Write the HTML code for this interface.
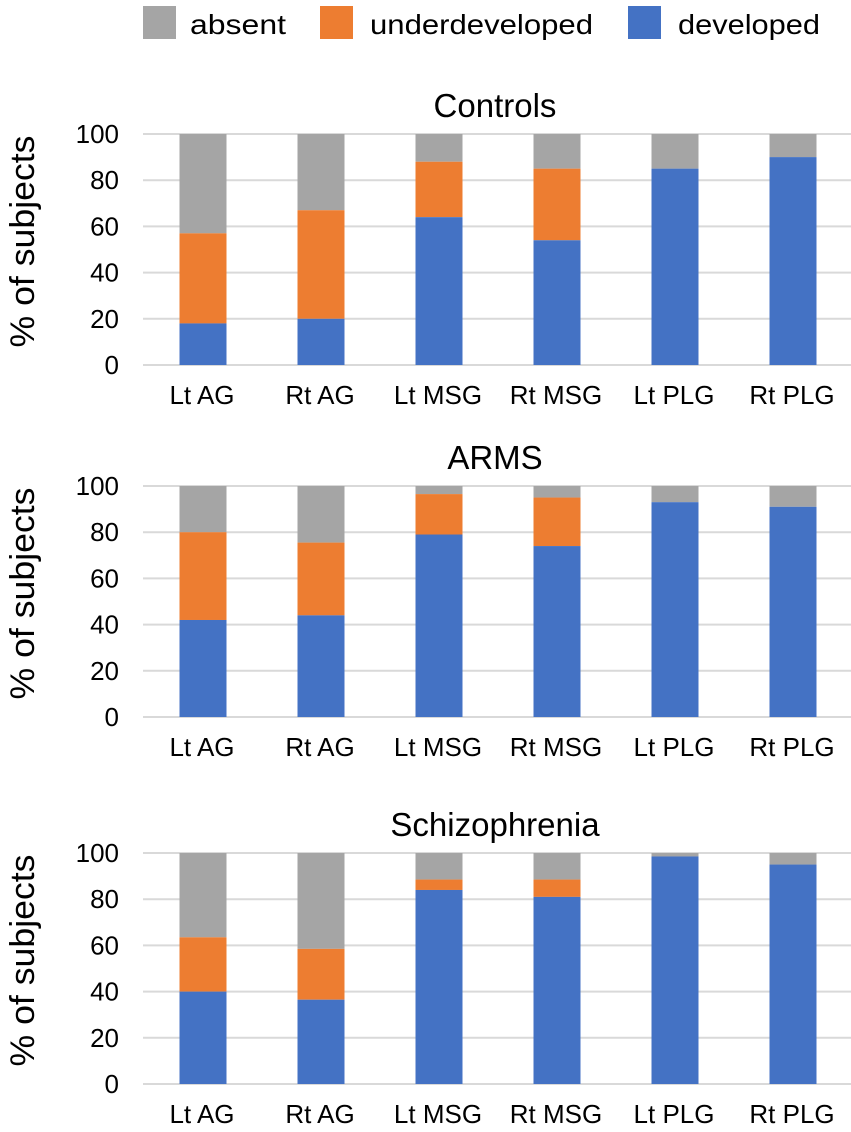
<!DOCTYPE html>
<html><head><meta charset="utf-8"><style>
html,body{margin:0;padding:0;background:#fff;}
svg{display:block;font-family:"Liberation Sans",Arial,sans-serif;}
</style></head><body>
<svg id="chart" width="851" height="1132" viewBox="0 0 851 1132">
  <g>
    <rect x="143" y="6" width="33" height="33" fill="#a5a5a5"/>
    <text x="190" y="34" font-size="28" textLength="96" lengthAdjust="spacingAndGlyphs">absent</text>
    <rect x="320" y="6" width="33" height="33" fill="#ed7d31"/>
    <text x="370" y="34" font-size="28" textLength="223" lengthAdjust="spacingAndGlyphs">underdeveloped</text>
    <rect x="628" y="6" width="33" height="33" fill="#4472c4"/>
    <text x="678" y="34" font-size="28" textLength="142" lengthAdjust="spacingAndGlyphs">developed</text>
  </g>
</svg>
<script>
const categories = ["Lt AG","Rt AG","Lt MSG","Rt MSG","Lt PLG","Rt PLG"];
const panelTitles = ["Controls","ARMS","Schizophrenia"];
const yTicks = [0,20,40,60,80,100];
const controlsDeveloped = [18,20,64,54,85,90];
const controlsUnderdeveloped = [39,47,24,31,0,0];
const armsDeveloped = [42,44,79,74,93,91];
const armsUnderdeveloped = [38,31.5,17.5,21,0,0];
const schizDeveloped = [40,36.5,84,81,98.5,95];
const schizUnderdeveloped = [23.5,22,4.5,7.5,0,0];
const developedSeries = [controlsDeveloped, armsDeveloped, schizDeveloped];
const underSeries = [controlsUnderdeveloped, armsUnderdeveloped, schizUnderdeveloped];

const NS = "http://www.w3.org/2000/svg";
const svg = document.getElementById('chart');
const panelTops = [134, 486, 853];
const plotH = 231, plotX0 = 143, plotX1 = 851;
const catW = (plotX1 - plotX0) / categories.length;
const barW = 47;
const COL = {absent:"#a5a5a5", under:"#ed7d31", dev:"#4472c4"};

function mk(tag, attrs, parent){
  const e = document.createElementNS(NS, tag);
  for (const k in attrs) e.setAttribute(k, attrs[k]);
  parent.appendChild(e);
  return e;
}

panelTitles.forEach((title, p) => {
  const top = panelTops[p];
  const yS = v => top + plotH - v / 100 * plotH;
  const xC = i => plotX0 + catW * (i + 0.5);
  const g = mk('g', {}, svg);
  
  

  const t = mk('text', {x: 495, y: top - 17, 'font-size': 33, 'text-anchor': 'middle'}, g);
  
  
  t.textContent = title;

  const yt = mk('text', {transform: 'translate(34,' + (top + plotH / 2 - 8) + ') rotate(-90)', 'font-size': 34, 'text-anchor': 'middle', textLength: 212, lengthAdjust: 'spacingAndGlyphs'}, g);
  
  
  yt.textContent = '% of subjects';

  yTicks.forEach(v => {
    const l = mk('line', {x1: plotX0, x2: plotX1, y1: yS(v), y2: yS(v), stroke: '#d9d9d9', 'stroke-width': 2}, g);
    
    
    const tl = mk('text', {x: 119, y: yS(v) + 9, 'font-size': 26, 'text-anchor': 'end'}, g);
    
    
    tl.textContent = v;
  });

  categories.forEach((c, i) => {
    const dev = developedSeries[p][i], und = underSeries[p][i];
    const x = xC(i) - barW / 2 + 1;
    const ra = mk('rect', {x: x, y: yS(100), width: barW, height: yS(dev + und) - yS(100), fill: COL.absent}, g);
    
    
    const ru = mk('rect', {x: x, y: yS(dev + und), width: barW, height: yS(dev) - yS(dev + und), fill: COL.under}, g);
    
    
    const rd = mk('rect', {x: x, y: yS(dev), width: barW, height: yS(0) - yS(dev), fill: COL.dev}, g);
    
    

    const cl = mk('text', {x: xC(i), y: top + plotH + 39, 'font-size': 26, 'text-anchor': 'middle'}, g);
    
    
    cl.textContent = c;
  });
});
</script>
</body></html>
